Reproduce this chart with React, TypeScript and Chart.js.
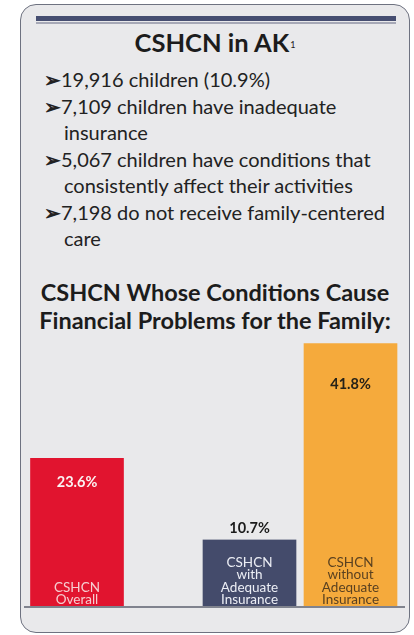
import React, { useEffect, useRef } from "react";
import { Chart, registerables } from "chart.js";

Chart.register(...registerables);

// ---- data ----
const groupLabels = ["CSHCN Overall", "CSHCN by insurance status"];
const seriesNames = [
  "CSHCN Overall",
  "CSHCN with Adequate Insurance",
  "CSHCN without Adequate Insurance",
];
const overallValues: (number | null)[] = [23.6, null];
const adequateValues: (number | null)[] = [null, 10.7];
const inadequateValues: (number | null)[] = [null, 41.8];
const barNameLines = [
  ["CSHCN", "Overall"],
  ["CSHCN", "with", "Adequate", "Insurance"],
  ["CSHCN", "without", "Adequate", "Insurance"],
];
const titleText = "CSHCN in AK";
const bulletItems = [
  ["19,916 children (10.9%)"],
  ["7,109 children have inadequate", "insurance"],
  ["5,067 children have conditions that", "consistently affect their activities"],
  ["7,198 do not receive family-centered", "care"],
];
const subtitleLines = [
  "CSHCN Whose Conditions Cause",
  "Financial Problems for the Family:",
];

// ---- styles ----
const PANEL_BG = "#e9e9eb";
const FONT = "Lato, 'Noto Sans', sans-serif";
const barColors = ["#e1142f", "#444b6b", "#f5aa3c"];
const valueColors = ["#fbf3f3", "#1b1b1b", "#262218"];
const nameColors = ["#f6cdd0", "#eceef5", "#5a4120"];
const valueOffsets = [29, -6, 46];

const barTextPlugin = {
  id: "barText",
  afterDatasetsDraw(chart: any) {
    const ctx = chart.ctx as CanvasRenderingContext2D;
    const yScale = chart.scales.y;
    const zeroY = yScale.getPixelForValue(0);
    ctx.save();
    ctx.strokeStyle = "#80838e";
    ctx.lineWidth = 2;
    ctx.beginPath();
    ctx.moveTo(4, zeroY);
    ctx.lineTo(385, zeroY);
    ctx.stroke();
    ctx.restore();

    chart.data.datasets.forEach((ds: any, di: number) => {
      const meta = chart.getDatasetMeta(di);
      meta.data.forEach((el: any, i: number) => {
        const v = ds.data[i];
        if (v === null || v === undefined) return;
        const { x, y, base } = el.getProps(["x", "y", "base"], true);
        ctx.save();
        ctx.textAlign = "center";
        ctx.textBaseline = "alphabetic";
        ctx.font = `bold 14.5px ${FONT}`;
        ctx.fillStyle = valueColors[di];
        ctx.fillText(`${v.toFixed(1)}%`, x, y + valueOffsets[di]);
        ctx.font = `13.5px ${FONT}`;
        ctx.fillStyle = nameColors[di];
        const lines = barNameLines[di];
        lines.forEach((ln, li) => {
          ctx.fillText(ln, x, base - 3 - (lines.length - 1 - li) * 12.4);
        });
        ctx.restore();
      });
    });
  },
};

function BarChart() {
  const ref = useRef<HTMLCanvasElement | null>(null);
  useEffect(() => {
    if (!ref.current) return;
    const seriesData = [overallValues, adequateValues, inadequateValues];
    const chart = new Chart(ref.current, {
      type: "bar",
      data: {
        labels: groupLabels,
        datasets: seriesData.map((d, i) => ({
          label: seriesNames[i],
          data: d,
          backgroundColor: barColors[i],
          borderColor: PANEL_BG,
          borderWidth: { left: 4, right: 4, top: 0, bottom: 0 },
          borderSkipped: false,
          barThickness: 101,
          skipNull: true,
          clip: false as any,
        })),
      },
      options: {
        animation: false,
        responsive: false,
        maintainAspectRatio: false,
        layout: { padding: { left: 57, right: 110, top: 11.5, bottom: 18 } },
        plugins: {
          legend: { display: false },
          tooltip: { enabled: false },
          title: { display: false },
        },
        scales: {
          x: { display: false, offset: false, grid: { display: false } },
          y: { display: false, min: 0, max: 50 },
        },
      } as any,
      plugins: [barTextPlugin],
    });
    return () => chart.destroy();
  }, []);
  return (
    <canvas
      ref={ref}
      width={390}
      height={345}
      style={{ position: "absolute", left: 20, top: 280, width: 390, height: 345 }}
    />
  );
}

export default function App() {
  return (
    <div
      style={{
        position: "absolute",
        left: 0,
        top: 0,
        width: 414,
        height: 635,
        background: "#ffffff",
        fontFamily: FONT,
        color: "#202020",
        overflow: "hidden",
      }}
    >
      <div
        style={{
          position: "absolute",
          left: 20,
          top: 4,
          width: 390,
          height: 629,
          boxSizing: "border-box",
          border: "1.5px solid #6e7280",
          borderRadius: 16,
          background: PANEL_BG,
        }}
      />
      <div style={{ position: "absolute", left: 36, top: 16, width: 360, height: 5, background: "#464e71" }} />
      <div style={{ position: "absolute", left: 36, top: 22, width: 360, height: 1.5, background: "#a6a8b6" }} />
      <div
        style={{
          position: "absolute",
          left: 20,
          width: 390,
          top: 27,
          textAlign: "center",
          fontSize: 25.5,
          fontWeight: 700,
          lineHeight: "30px",
          color: "#1c1c1c",
        }}
      >
        {titleText}
        <span style={{ fontSize: 9, fontWeight: 400, verticalAlign: "top", position: "relative", top: 3, marginLeft: 1 }}>1</span>
      </div>
      <div
        style={{
          position: "absolute",
          left: 44,
          top: 66,
          fontSize: 20,
          lineHeight: "26.5px",
          color: "#222222",
          whiteSpace: "nowrap",
        }}
      >
        {bulletItems.map((lines, i) => (
          <div key={i} style={{ paddingLeft: 20, textIndent: -20 }}>
            <span style={{ fontWeight: 700 }}>{"\u27A2"}</span>
            {lines.map((ln, j) => (
              <React.Fragment key={j}>
                {j > 0 && <br />}
                {ln}
              </React.Fragment>
            ))}
          </div>
        ))}
      </div>
      <div
        style={{
          position: "absolute",
          left: 20,
          width: 390,
          top: 278,
          textAlign: "center",
          fontSize: 23.5,
          fontWeight: 700,
          lineHeight: "28px",
          color: "#1c1c1c",
        }}
      >
        {subtitleLines.map((ln, i) => (
          <div key={i}>{ln}</div>
        ))}
      </div>
      <BarChart />
    </div>
  );
}
